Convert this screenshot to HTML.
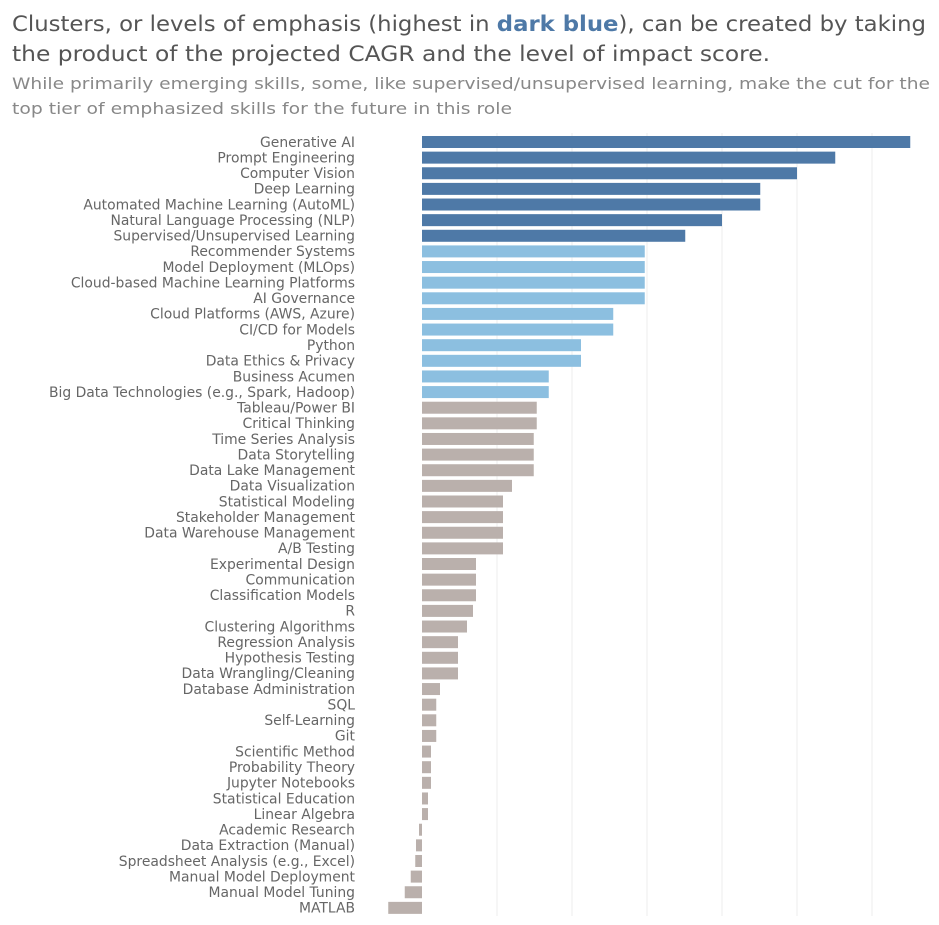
<!DOCTYPE html>
<html><head><meta charset="utf-8"><style>
html,body{margin:0;padding:0;background:#fff;}
svg{display:block;font-family:"DejaVu Sans","Liberation Sans",sans-serif;}
</style></head><body>
<svg id="chart" width="939" height="925" viewBox="0 0 939 925">
<g fill="#555">
<text x="12" y="31" font-size="21" textLength="914" lengthAdjust="spacingAndGlyphs">Clusters, or levels of emphasis (highest in <tspan fill="#4e79a7" font-weight="bold">dark blue</tspan>), can be created by taking</text>
<text x="12" y="61" font-size="21" textLength="758" lengthAdjust="spacingAndGlyphs">the product of the projected CAGR and the level of impact score.</text>
</g>
<g fill="#888">
<text x="12" y="89" font-size="16" textLength="918" lengthAdjust="spacingAndGlyphs">While primarily emerging skills, some, like supervised/unsupervised learning, make the cut for the</text>
<text x="12" y="114" font-size="16" textLength="500" lengthAdjust="spacingAndGlyphs">top tier of emphasized skills for the future in this role</text>
</g>
<g id="grid"></g>
<g id="bars"></g>
<g id="labels"></g>
</svg>
<script>
const skills = ["Generative AI","Prompt Engineering","Computer Vision","Deep Learning","Automated Machine Learning (AutoML)","Natural Language Processing (NLP)","Supervised/Unsupervised Learning","Recommender Systems","Model Deployment (MLOps)","Cloud-based Machine Learning Platforms","AI Governance","Cloud Platforms (AWS, Azure)","CI/CD for Models","Python","Data Ethics & Privacy","Business Acumen","Big Data Technologies (e.g., Spark, Hadoop)","Tableau/Power BI","Critical Thinking","Time Series Analysis","Data Storytelling","Data Lake Management","Data Visualization","Statistical Modeling","Stakeholder Management","Data Warehouse Management","A/B Testing","Experimental Design","Communication","Classification Models","R","Clustering Algorithms","Regression Analysis","Hypothesis Testing","Data Wrangling/Cleaning","Database Administration","SQL","Self-Learning","Git","Scientific Method","Probability Theory","Jupyter Notebooks","Statistical Education","Linear Algebra","Academic Research","Data Extraction (Manual)","Spreadsheet Analysis (e.g., Excel)","Manual Model Deployment","Manual Model Tuning","MATLAB"];
const scores = [6.51,5.51,5.0,4.51,4.51,4.0,3.51,2.97,2.97,2.97,2.97,2.55,2.55,2.12,2.12,1.69,1.69,1.53,1.53,1.49,1.49,1.49,1.2,1.08,1.08,1.08,1.08,0.72,0.72,0.72,0.68,0.6,0.48,0.48,0.48,0.24,0.19,0.19,0.19,0.12,0.12,0.12,0.08,0.08,-0.04,-0.08,-0.09,-0.15,-0.23,-0.45];
const clusters = [1,1,1,1,1,1,1,2,2,2,2,2,2,2,2,2,2,3,3,3,3,3,3,3,3,3,3,3,3,3,3,3,3,3,3,3,3,3,3,3,3,3,3,3,3,3,3,3,3,3];
const gridTicks = [1,2,3,4,5,6];

const NS="http://www.w3.org/2000/svg";
const x0=422, unit=75, topY=142, pitch=15.63, barH=12;
const xScale=v=>x0+v*unit;
const yScale=i=>topY+i*pitch;
const colors={1:"#4e79a7",2:"#8cbfe0",3:"#bab0ac"};
const gridG=document.getElementById('grid'), barsG=document.getElementById('bars'), labelsG=document.getElementById('labels');
gridTicks.forEach(t=>{
  const l=document.createElementNS(NS,'line');
  
  
  l.setAttribute('x1',xScale(t));l.setAttribute('x2',xScale(t));
  l.setAttribute('y1',133);l.setAttribute('y2',916);
  l.setAttribute('stroke','#eeeeee');l.setAttribute('stroke-width','1');
  gridG.appendChild(l);
});
skills.forEach((s,i)=>{
  const v=scores[i];
  const r=document.createElementNS(NS,'rect');
  
  
  r.setAttribute('x',Math.min(xScale(0),xScale(v)));
  r.setAttribute('width',Math.abs(xScale(v)-xScale(0)));
  r.setAttribute('y',yScale(i)-barH/2);
  r.setAttribute('height',barH);
  r.setAttribute('fill',colors[clusters[i]]);
  barsG.appendChild(r);
  const t=document.createElementNS(NS,'text');
  
  
  t.setAttribute('x',355);t.setAttribute('y',yScale(i)+4.8);
  t.setAttribute('text-anchor','end');t.setAttribute('font-size','13.9');
  t.setAttribute('fill','#666');
  t.textContent=s;
  labelsG.appendChild(t);
});
</script>
</body></html>
